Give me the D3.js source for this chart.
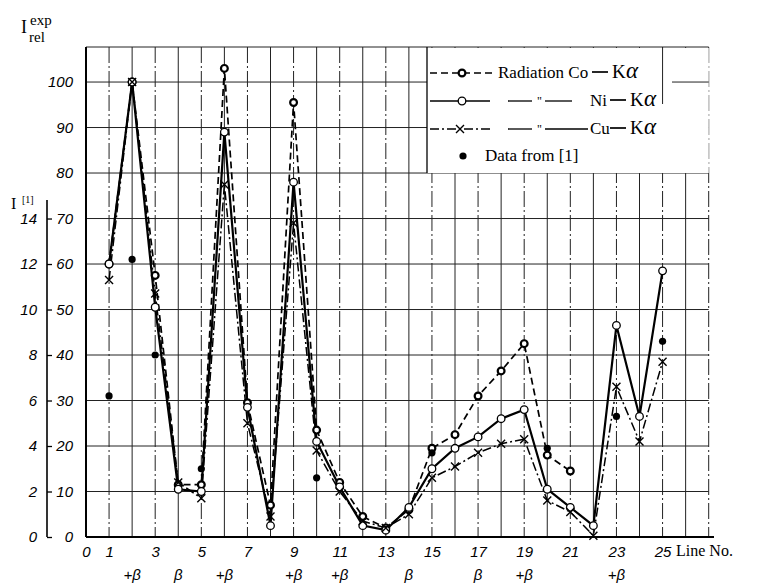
<!DOCTYPE html>
<head>
  <meta charset="utf-8">
  <script src="https://cdn.jsdelivr.net/npm/d3@7"></script>
  <style>
    body { margin:0; background:#fff; }
    .tick text { font-family: "Liberation Sans", sans-serif; font-style: italic; font-size: 15px; }
  </style>
</head>

<body>
  <script>
    let width = 761,
        height = 584;
    const SERIF = "'Liberation Serif', 'DejaVu Serif', serif";

    // line numbers 1..25
    let lineNo = d3.range(1, 26);

    // relative intensities, Co-Ka (no lines measured after 21)
    let coVals = [60, 100, 57.5, 11.5, 11.5, 103, 29.5, 7, 95.5, 23.5, 12, 4.5, 2, 6, 19.5,
                  22.5, 31, 36.5, 42.5, 18, 14.5, null, null, null, null];
    // Ni-Ka
    let niVals = [60, 100, 50.5, 10.5, 10, 89, 28.5, 2.5, 78, 21, 11, 2.5, 1.5, 6.5, 15,
                  19.5, 22, 26, 28, 10.5, 6.5, 2.5, 46.5, 26.5, 58.5];
    // Cu-Ka
    let cuVals = [56.5, 100, 53.5, 12, 8.5, 77.5, 25, 4.5, 69, 19, 10, 3.5, 2, 5, 13,
                  15.5, 18.5, 20.5, 21.5, 8, 5.5, 0.3, 33, 21, 38.5];
    // data from [1], in I units (0..14)
    let refLines = [1, 2, 3, 5, 10, 15, 20, 23, 25];
    let refVals = [6.2, 12.2, 8.0, 3.0, 2.6, 3.7, 3.9, 5.3, 8.6];

    let xTicks = [0, 1, 3, 5, 7, 9, 11, 13, 15, 17, 19, 21, 23, 25];
    let yTicks = d3.range(0, 101, 10);
    let iTicks = d3.range(0, 15, 2);
    let betaLines = [2, 4, 6, 9, 11, 14, 17, 19, 23];
    let betaText = ["+β", "β", "+β", "+β", "+β", "β", "β", "+β", "+β"];

    let svg = d3.select("body").append("svg")
      .attr("width", width)
      .attr("height", height);

    let x = d3.scaleLinear().domain([0, 27.1]).range([86, 711]);
    let y = d3.scaleLinear().domain([0, 107.7]).range([537, 47]);
    let yI = d3.scaleLinear().domain([0, 14]).range([y(0), y(70)]);

    // grid
    let grid = svg.append("g").attr("stroke", "#222").attr("stroke-width", 1);
    grid.selectAll(".vg").data(d3.range(1, 28)).enter().append("line")
      .attr("x1", d => x(d)).attr("x2", d => x(d))
      .attr("y1", y.range()[1]).attr("y2", y(0))
      .attr("stroke-dasharray", d => d % 2 ? "16,3,2,3" : null);
    grid.selectAll(".hg").data(d3.range(10, 101, 10)).enter().append("line")
      .attr("x1", x(0)).attr("x2", x(27))
      .attr("y1", d => y(d)).attr("y2", d => y(d));
    grid.append("line").attr("x1", x(0)).attr("x2", x(27)).attr("y1", 47).attr("y2", 47);

    // frame
    svg.append("line").attr("x1", x(0)).attr("x2", x(0)).attr("y1", 47).attr("y2", y(0))
      .attr("stroke", "#000").attr("stroke-width", 2);
    svg.append("line").attr("x1", x(0)).attr("x2", 714).attr("y1", y(0)).attr("y2", y(0))
      .attr("stroke", "#000").attr("stroke-width", 2);

    // axes
    let yAxis = svg.append("g").attr("transform", `translate(${x(0)},0)`)
      .call(d3.axisLeft(y).tickValues(yTicks).tickSize(0).tickPadding(13));
    yAxis.select(".domain").remove();

    let iAxis = svg.append("g").attr("transform", "translate(47,0)")
      .call(d3.axisLeft(yI).tickValues(iTicks).tickSizeInner(-5).tickSizeOuter(0).tickPadding(10));
    iAxis.select(".domain").remove();
    iAxis.selectAll(".tick line").attr("stroke-width", 1.3);
    svg.append("line").attr("x1", 47).attr("x2", 47).attr("y1", 200).attr("y2", y(0))
      .attr("stroke", "#000").attr("stroke-width", 1.6);

    let xAxis = svg.append("g").attr("transform", `translate(0,${y(0)})`)
      .call(d3.axisBottom(x).tickValues(xTicks).tickSize(0).tickPadding(9));
    xAxis.select(".domain").remove();

    svg.selectAll(".beta").data(betaLines).enter().append("text")
      .attr("x", d => x(d)).attr("y", 580)
      .attr("text-anchor", "middle")
      .style("font-family", "Liberation Sans, sans-serif").style("font-style", "italic")
      .style("font-size", "15px")
      .text((d, i) => betaText[i]);

    svg.append("text").attr("x", 676).attr("y", 556)
      .style("font-family", SERIF).style("font-size", "16px").text("Line No.");

    // axis titles
    let t1 = svg.append("text").attr("x", 21).attr("y", 33)
      .style("font-family", SERIF).style("font-size", "18px");
    t1.append("tspan").text("I");
    t1.append("tspan").attr("x", 30).attr("y", 25).style("font-size", "15px").text("exp");
    t1.append("tspan").attr("x", 29).attr("y", 42).style("font-size", "15px").text("rel");

    let t2 = svg.append("text").attr("x", 11).attr("y", 209)
      .style("font-family", SERIF).style("font-size", "16px");
    t2.append("tspan").text("I");
    t2.append("tspan").attr("x", 22).attr("y", 203).style("font-size", "10px").text("[1]");

    // series
    let series = [
      { vals: coVals, dash: "7,4", w: 1.7 },
      { vals: niVals, dash: null, w: 2.2 },
      { vals: cuVals, dash: "9,3,2,3", w: 1.5 }
    ];
    let line = d3.line()
      .defined(d => d.v != null)
      .x(d => x(d.n)).y(d => y(d.v));

    series.forEach(s => {
      s.pts = lineNo.map((n, i) => ({ n: n, v: s.vals[i] }));
      svg.append("path").datum(s.pts)
        .attr("d", line)
        .attr("fill", "none").attr("stroke", "#000")
        .attr("stroke-width", s.w)
        .attr("stroke-dasharray", s.dash);
    });

    function drawCo(g, px, py) {
      g.append("circle").attr("cx", px).attr("cy", py).attr("r", 3.4)
        .attr("fill", "#fff").attr("stroke", "#000").attr("stroke-width", 2.2);
    }
    function drawNi(g, px, py) {
      g.append("circle").attr("cx", px).attr("cy", py).attr("r", 3.8)
        .attr("fill", "#fff").attr("stroke", "#000").attr("stroke-width", 1.3);
    }
    function drawCu(g, px, py) {
      let s = 4;
      g.append("path").attr("d", `M${px - s},${py - s}L${px + s},${py + s}M${px - s},${py + s}L${px + s},${py - s}`)
        .attr("stroke", "#000").attr("stroke-width", 1.4);
    }
    function drawRef(g, px, py) {
      g.append("circle").attr("cx", px).attr("cy", py).attr("r", 3.6).attr("fill", "#000");
    }

    let marks = svg.append("g");
    [drawCo, drawNi, drawCu].forEach((fn, k) => {
      series[k].pts.filter(d => d.v != null).forEach(d => fn(marks, x(d.n), y(d.v)));
    });
    refLines.forEach((n, i) => drawRef(marks, x(n), yI(refVals[i])));

    // legend
    let lg = svg.append("g");
    lg.append("rect").attr("x", 427).attr("y", 48).attr("width", x(27) - 427).attr("height", y(80) - 48)
      .attr("fill", "#fff");
    lg.append("line").attr("x1", 427).attr("x2", 427).attr("y1", 47).attr("y2", y(80))
      .attr("stroke", "#000").attr("stroke-width", 1.3);
    lg.append("line").attr("x1", x(25)).attr("x2", x(25)).attr("y1", 47).attr("y2", 104)
      .attr("stroke", "#222").attr("stroke-width", 1);
    lg.append("line").attr("x1", 672).attr("x2", x(27)).attr("y1", y(100)).attr("y2", y(100))
      .attr("stroke", "#222").attr("stroke-width", 1);

    let rows = [73, 101, 129, 156];
    lg.append("line").attr("x1", 430).attr("x2", 494).attr("y1", rows[0]).attr("y2", rows[0])
      .attr("stroke", "#000").attr("stroke-width", 1.7).attr("stroke-dasharray", "7,4");
    drawCo(lg, 462, rows[0]);
    lg.append("line").attr("x1", 430).attr("x2", 490).attr("y1", rows[1]).attr("y2", rows[1])
      .attr("stroke", "#000").attr("stroke-width", 1.6);
    drawNi(lg, 462, rows[1]);
    lg.append("line").attr("x1", 430).attr("x2", 493).attr("y1", rows[2]).attr("y2", rows[2])
      .attr("stroke", "#000").attr("stroke-width", 1.4).attr("stroke-dasharray", "9,3,2,3");
    drawCu(lg, 460, rows[2]);
    drawRef(lg, 463, rows[3]);

    let legTxt = (tx, ty, s, fs, it) => lg.append("text")
      .attr("x", tx).attr("y", ty)
      .style("font-family", SERIF).style("font-size", (fs || 17) + "px")
      .style("font-style", it ? "italic" : null).text(s);
    let dash = (x1, x2, ty) => lg.append("line").attr("x1", x1).attr("x2", x2)
      .attr("y1", ty).attr("y2", ty).attr("stroke", "#000").attr("stroke-width", 1.7);

    legTxt(498, rows[0] + 5, "Radiation Co");
    legTxt(590, rows[1] + 5, "Ni");
    legTxt(590, rows[2] + 5, "Cu");
    rows.slice(0, 3).forEach((r, i) => {
      let kx = i === 0 ? 612 : 630;
      dash(kx - 20, kx - 4, r - 1);
      legTxt(kx, r + 5, "K", 19);
      legTxt(kx + 14, r + 5, "α", 23, true);
    });
    legTxt(485, rows[3] + 5, "Data from [1]");

    // ditto marks in rows 2 and 3
    [[rows[1], 572], [rows[2], 588]].forEach(r => {
      lg.append("line").attr("x1", 508).attr("x2", 532).attr("y1", r[0]).attr("y2", r[0])
        .attr("stroke", "#000").attr("stroke-width", 1.3);
      lg.append("text").attr("x", 537).attr("y", r[0] + 4)
        .style("font-family", SERIF).style("font-size", "12px").text("\"");
      lg.append("line").attr("x1", 545).attr("x2", r[1]).attr("y1", r[0]).attr("y2", r[0])
        .attr("stroke", "#000").attr("stroke-width", 1.3);
    });
  </script>
</body>
